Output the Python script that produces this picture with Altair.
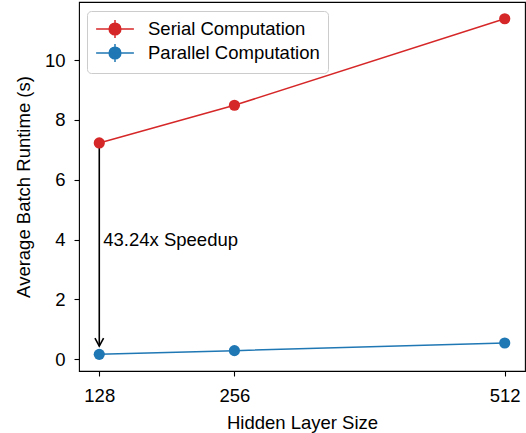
import altair as alt
import pandas as pd

hidden_sizes = [128, 256, 512]
serial_runtime = [7.23, 8.49, 11.38]
parallel_runtime = [0.167, 0.29, 0.545]
series_names = ["Serial Computation", "Parallel Computation"]
series_colors = ["#d62728", "#1f77b4"]
speedup_label = "43.24x Speedup"

rows = []
for x, y in zip(hidden_sizes, serial_runtime):
    rows.append({"size": x, "runtime": y, "series": series_names[0]})
for x, y in zip(hidden_sizes, parallel_runtime):
    rows.append({"size": x, "runtime": y, "series": series_names[1]})
df = pd.DataFrame(rows)

FONT = "Liberation Sans"
FS = 18.5

xscale = alt.Scale(domain=[108.8, 531.2], nice=False, zero=False)
yscale = alt.Scale(domain=[-0.39, 11.94], nice=False, zero=False)
color_scale = alt.Scale(domain=series_names, range=series_colors)

xenc = alt.X("size:Q", scale=xscale,
             axis=alt.Axis(values=hidden_sizes, title="Hidden Layer Size",
                           titleY=57, titleBaseline="alphabetic", labelPadding=10.5))
yenc = alt.Y("runtime:Q", scale=yscale,
             axis=alt.Axis(values=[0, 2, 4, 6, 8, 10], title="Average Batch Runtime (s)",
                           titleX=-50, titleBaseline="alphabetic", labelPadding=9))

legend_symbol = ("M-2.1,0L2.1,0M0,-1L0,1"
                 "M-0.65,0A0.65,0.65 0 1,1 0.65,0A0.65,0.65 0 1,1 -0.65,0Z")

leg = alt.Legend(
    title=None, orient="none", legendX=8, legendY=9,
    symbolType=legend_symbol, symbolSize=324, symbolStrokeWidth=1.5,
    symbolOffset=10, labelOffset=23, padding=8, rowPadding=0,
    labelFont=FONT, labelFontSize=FS, labelColor="black", labelLimit=400,
    strokeColor="#cccccc", fillColor="rgba(255,255,255,0.8)",
    cornerRadius=4, symbolOpacity=1,
)

lines = alt.Chart(df).mark_line(strokeWidth=1.5).encode(
    x=xenc, y=yenc,
    color=alt.Color("series:N", scale=color_scale, legend=leg),
    detail="series:N",
)

points = alt.Chart(df).mark_circle(size=125, opacity=1).encode(
    x=xenc, y=yenc,
    color=alt.Color("series:N", scale=color_scale, legend=leg),
)

arrow_df = pd.DataFrame({"x": [hidden_sizes[0]], "y": [serial_runtime[0]], "y2": [0.44],
                         "ty": [4.0], "label": [speedup_label]})

shaft = alt.Chart(arrow_df).mark_rule(color="black", strokeWidth=1.6).encode(
    x=alt.X("x:Q", scale=xscale), y=alt.Y("y:Q", scale=yscale), y2="y2:Q")

head = alt.Chart(arrow_df).mark_point(
    shape="M-0.54,-1L0,0L0.54,-1", size=256, filled=False,
    color="black", strokeWidth=1.6, opacity=1
).encode(x=alt.X("x:Q", scale=xscale), y=alt.Y("y2:Q", scale=yscale))

label = alt.Chart(arrow_df).mark_text(
    align="left", baseline="middle", dx=4, font=FONT, fontSize=FS, color="black"
).encode(x=alt.X("x:Q", scale=xscale), y=alt.Y("ty:Q", scale=yscale), text="label:N")

chart = alt.layer(lines, shaft, head, points, label).properties(
    width=446, height=369,
    autosize=alt.AutoSizeParams(type="none"),
    padding={"left": 79, "top": 2, "right": 1, "bottom": 62},
).configure_view(
    stroke="black", strokeWidth=1.1
).configure_axis(
    grid=False, domain=False, tickColor="black", tickSize=5, tickWidth=1.1,
    labelFont=FONT, labelFontSize=FS, labelColor="black",
    titleFont=FONT, titleFontSize=FS, titleColor="black", titleFontWeight="normal",
)

chart.save("out.html", embed_options={"renderer": "svg", "actions": False})
